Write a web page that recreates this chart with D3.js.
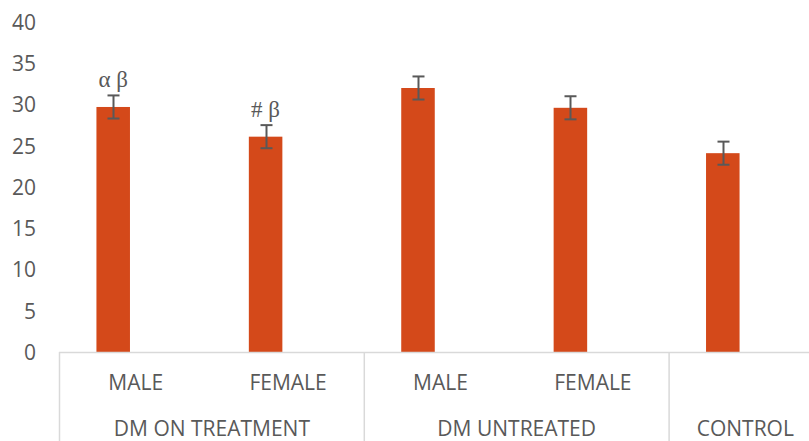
<!DOCTYPE html>
<html>
<head>
<meta charset="utf-8">
<script src="https://cdn.jsdelivr.net/npm/d3@7"></script>
<style>
  html, body { margin: 0; padding: 0; background: #fff; }
  svg { display: block; }
  text { font-family: "Open Sans", "Liberation Sans", sans-serif; fill: #595959; }
</style>
</head>
<body>
<svg id="chart" width="809" height="441"></svg>
<script>
// Subgroups along the x axis and the group each belongs to
const categories = ["MALE", "FEMALE", "MALE", "FEMALE", ""];
const groups = ["DM ON TREATMENT", "DM ON TREATMENT", "DM UNTREATED", "DM UNTREATED", "CONTROL"];
const groupNames = ["DM ON TREATMENT", "DM UNTREATED", "CONTROL"];
// Mean values and their error (±)
const values = [29.7, 26.1, 32.0, 29.6, 24.1];
const errors = [1.4, 1.4, 1.4, 1.4, 1.4];
// Significance marks above the bars
const marks = ["α β", "# β", "", "", ""];
const yTicks = [0, 5, 10, 15, 20, 25, 30, 35, 40];

const svg = d3.select("#chart");
const W = 809, H = 441;
const plotTop = 22, plotBottom = 352;
const barColor = "#d4491a";
const lineColor = "#d9d9d9";
const textColor = "#595959";
const fontSize = 21;

const idx = d3.range(values.length);

// Bar placement
const x = d3.scaleBand().domain(idx).range([37, 799]).paddingInner(0.78).paddingOuter(0.39);
// Category frame under the plot
const xAxisScale = d3.scaleBand().domain(idx).range([59.5, 821.5]);

const y = d3.scaleLinear().domain([0, 40]).range([plotBottom, plotTop]);

// Y tick labels (no axis line, no gridlines)
const yAxis = d3.axisLeft(y).tickValues(yTicks).tickSize(0).tickPadding(0);
const gy = svg.append("g").attr("transform", "translate(36,0)").call(yAxis);
gy.select(".domain").remove();
gy.selectAll("text")
  .attr("font-size", fontSize)
  .attr("font-family", "'Open Sans', sans-serif")
  .attr("fill", textColor)
  .attr("dy", "0.35em");

// Bars
svg.append("g").selectAll("rect").data(idx).join("rect")
  .attr("x", i => x(i))
  .attr("width", x.bandwidth())
  .attr("y", i => y(values[i]))
  .attr("height", i => y(0) - y(values[i]))
  .attr("fill", barColor);

// Error bars
const capW = 12;
const eb = svg.append("g").attr("stroke", textColor).attr("stroke-width", 2).attr("fill", "none");
idx.forEach(i => {
  const cx = Math.round(x(i) + x.bandwidth() / 2) + 0.5;
  const top = y(values[i] + errors[i]);
  const bot = y(values[i] - errors[i]);
  eb.append("line").attr("x1", cx).attr("x2", cx).attr("y1", top).attr("y2", bot);
  eb.append("line").attr("x1", cx - capW / 2).attr("x2", cx + capW / 2).attr("y1", top).attr("y2", top);
  eb.append("line").attr("x1", cx - capW / 2).attr("x2", cx + capW / 2).attr("y1", bot).attr("y2", bot);
});

// Significance marks
svg.append("g").selectAll("text").data(idx.filter(i => marks[i])).join("text")
  .attr("x", i => x(i) + x.bandwidth() / 2)
  .attr("y", i => y(values[i] + errors[i]) - 8)
  .attr("text-anchor", "middle")
  .attr("font-size", 23)
  .style("font-family", "'Liberation Serif', 'DejaVu Serif', serif")
  .text(i => marks[i]);

// Baseline and category frame
const frame = svg.append("g").attr("stroke", lineColor).attr("stroke-width", 1.5);
frame.append("line").attr("x1", 59).attr("x2", W).attr("y1", plotBottom + 0.5).attr("y2", plotBottom + 0.5);

// Group boundaries
const groupStart = groupNames.map(g => groups.indexOf(g));
const groupEnd = groupNames.map(g => groups.lastIndexOf(g));
groupStart.forEach(s => {
  const gx = xAxisScale(s);
  frame.append("line").attr("x1", gx).attr("x2", gx).attr("y1", plotBottom).attr("y2", H);
});

// Subcategory labels
svg.append("g").selectAll("text").data(idx.filter(i => categories[i])).join("text")
  .attr("x", i => xAxisScale(i) + xAxisScale.bandwidth() / 2)
  .attr("y", 390)
  .attr("text-anchor", "middle")
  .attr("font-size", fontSize)
  .text(i => categories[i]);

// Group labels
svg.append("g").selectAll("text").data(groupNames).join("text")
  .attr("x", (g, k) => (xAxisScale(groupStart[k]) + xAxisScale(groupEnd[k]) + xAxisScale.bandwidth()) / 2)
  .attr("y", 436)
  .attr("text-anchor", "middle")
  .attr("font-size", fontSize)
  .text(g => g);
</script>
</body>
</html>
